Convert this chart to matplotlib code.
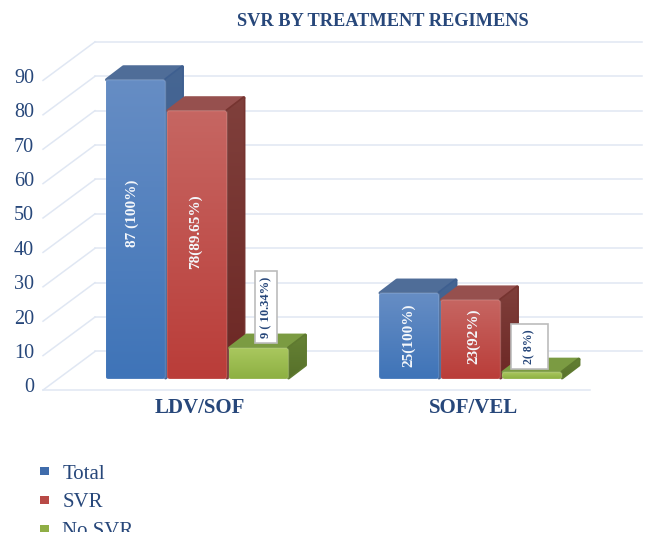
import numpy as np
import matplotlib
matplotlib.use('Agg')
from matplotlib import pyplot as plt
from matplotlib.colors import LinearSegmentedColormap
from matplotlib.patches import FancyBboxPatch, Patch, Polygon, Rectangle

categories = ['LDV/SOF', 'SOF/VEL']
series = ['Total', 'SVR', 'No SVR']
total = [87, 25]
svr = [78, 23]
no_svr = [9, 2]
total_labels = ['87 (100%)', '25(100%)']
svr_labels = ['78(89.65%)', '23(92%)']
no_svr_labels = ['9 ( 10.34%)', '2( 8%)']
yticks = [0, 10, 20, 30, 40, 50, 60, 70, 80, 90]

navy = '#27477a'
grid_col = '#e0e7f3'
serif = 'Liberation Serif'

# (front top, front bottom, top face, side top, side edge, side bottom, legend)
blue = ('#668dc4', '#3f74b8', '#4f6d98', '#466693', '#3e5f90', '#36588c', '#3f6cab')
red = ('#c66662', '#ba3d39', '#96504e', '#80403c', '#763430', '#6c2724', '#b84a46')
green = ('#a9c75e', '#8db042', '#7b9b42', '#678436', '#5f7a30', '#566f29', '#8fae45')

# scale of the picture: 273.5 px between the groups, 3.44 px per unit
px_x = 273.5
px_y = 3.44
bar_w = 60 / px_x
step = 61.5 / px_x
dx = 18 / px_x
dy = 14 / px_y
ins_x = 1.2 / px_x
ins_y = 1.2 / px_y

fig = plt.figure(figsize=(6.6, 5.47), dpi=100)
ax = fig.add_axes([0, 0, 1, 1])
xlim = (-197 / px_x, 463 / px_x)
ylim = (-168 / px_y, 379 / px_y)


def gradient(x0, x1, y0, y1, col_top, col_bottom, clip, z):
    cmap = LinearSegmentedColormap.from_list('g', [col_top, col_bottom])
    im = ax.imshow(np.linspace(0, 1, 64).reshape(-1, 1), cmap=cmap, aspect='auto',
                   extent=(x0, x1, y0, y1), zorder=z, interpolation='bilinear')
    im.set_clip_path(clip)


def draw_bar(center, value, cols, z):
    x0 = center - bar_w / 2
    x1 = center + bar_w / 2
    bx = x1 + dx - ins_x
    by = value + dy - ins_y
    top = Polygon([(x0 + ins_x, value), (x0 + dx, by), (bx, by), (x1, value)],
                  fc=cols[2], ec=cols[2], lw=2.4, joinstyle='round', zorder=z)
    side = Polygon([(x1, ins_y), (bx, dy), (bx, by), (x1, value)],
                   fc=cols[4], ec=cols[4], lw=2.4, joinstyle='round', zorder=z)
    ax.add_patch(top)
    ax.add_patch(side)
    gradient(x1, x1 + dx + 0.004, -1, value + dy + 1, cols[3], cols[5], side, z + 0.1)
    front = FancyBboxPatch((x0, 0), bar_w, value, boxstyle='round,pad=0,rounding_size=0.01',
                           mutation_aspect=px_x / px_y, fc='none', ec='none', zorder=z + 0.2)
    ax.add_patch(front)
    gradient(x0, x1, 0, value, cols[0], cols[1], front, z + 0.2)
    edge = FancyBboxPatch((x0, 0), bar_w, value, boxstyle='round,pad=0,rounding_size=0.01',
                          mutation_aspect=px_x / px_y, fc='none', ec='white', alpha=0.15,
                          lw=1, zorder=z + 0.3)
    ax.add_patch(edge)


# back wall, side ticks and floor
for v in yticks:
    ax.plot([-0.373, 1.627], [v + 8, v + 8], color=grid_col, lw=1.1, zorder=1)
    ax.plot([-0.563, -0.373], [v - 3.2, v + 8], color=grid_col, lw=1.1, zorder=1)
    ax.text(-0.596, v - 2.6, str(v), ha='right', va='center', family=serif,
            fontsize=14.5, color=navy)
ax.plot([-0.563, 1.437], [-3.2, -3.2], color=grid_col, lw=1.1, zorder=1)

for i in range(len(categories)):
    draw_bar(i - step, total[i], blue, 3)
    draw_bar(i, svr[i], red, 4)
    draw_bar(i + step, no_svr[i], green, 5)
    ax.text(i + 0.012, -8.5, categories[i], ha='center', va='center', family=serif,
            fontsize=15, fontweight='bold', color=navy)

# labels inside the bars
white_kw = dict(rotation=90, ha='center', va='center', family=serif, fontsize=11,
                fontweight='bold', color='#f4f7fb', zorder=8)
ax.text(0 - step - 0.011, total[0] * 0.555, total_labels[0], **white_kw)
ax.text(0 - 0.005, svr[0] * 0.55, svr_labels[0], **white_kw)
ax.text(1 - step - 0.002, total[1] * 0.51, total_labels[1], **white_kw)
ax.text(1 + 0.012, svr[1] * 0.54, svr_labels[1], **white_kw)

# boxed labels of the small bars
box_kw = dict(fc='white', ec='#bcbcbc', lw=1.2, zorder=8)
ax.add_patch(Rectangle((0 + step - 4 / px_x, no_svr[0] + 1.6), 22 / px_x, 72 / px_y, **box_kw))
ax.text(0 + step + 7.5 / px_x, no_svr[0] + 11.8, no_svr_labels[0], rotation=90, ha='center',
        va='center', family=serif, fontsize=9, fontweight='bold', color=navy, zorder=9)
ax.add_patch(Rectangle((1 + step - 21.5 / px_x, no_svr[1] + 0.9), 37 / px_x, 45 / px_y, **box_kw))
ax.text(1 + step - 3 / px_x, no_svr[1] + 7.5, no_svr_labels[1], rotation=90, ha='center',
        va='center', family=serif, fontsize=8.5, fontweight='bold', color=navy, zorder=9)

ax.set_xlim(xlim)
ax.set_ylim(ylim)
ax.axis('off')

fig.text(383 / 660, 1 - 22 / 547, 'SVR BY TREATMENT REGIMENS', ha='center', va='center',
         family=serif, fontsize=13.2, fontweight='bold', color=navy)

handles = [Patch(fc=blue[6], ec='none'), Patch(fc=red[6], ec='none'), Patch(fc=green[6], ec='none')]
leg = ax.legend(handles, series, loc='upper left', bbox_to_anchor=(25 / 660, 1 - 450 / 547),
                bbox_transform=fig.transFigure, frameon=False, handlelength=0.45,
                handleheight=0.2, handletextpad=0.64, labelspacing=0.47, borderpad=0.2,
                prop={'family': serif, 'size': 15}, labelcolor=navy)
leg.set_zorder(10)

# the source picture is cut off through the last legend entry
ax.add_patch(Rectangle((0, 0), 1, 15 / 547, transform=fig.transFigure, fc='white', ec='none',
                       zorder=20, clip_on=False))

fig.savefig('out.png', dpi=100)
